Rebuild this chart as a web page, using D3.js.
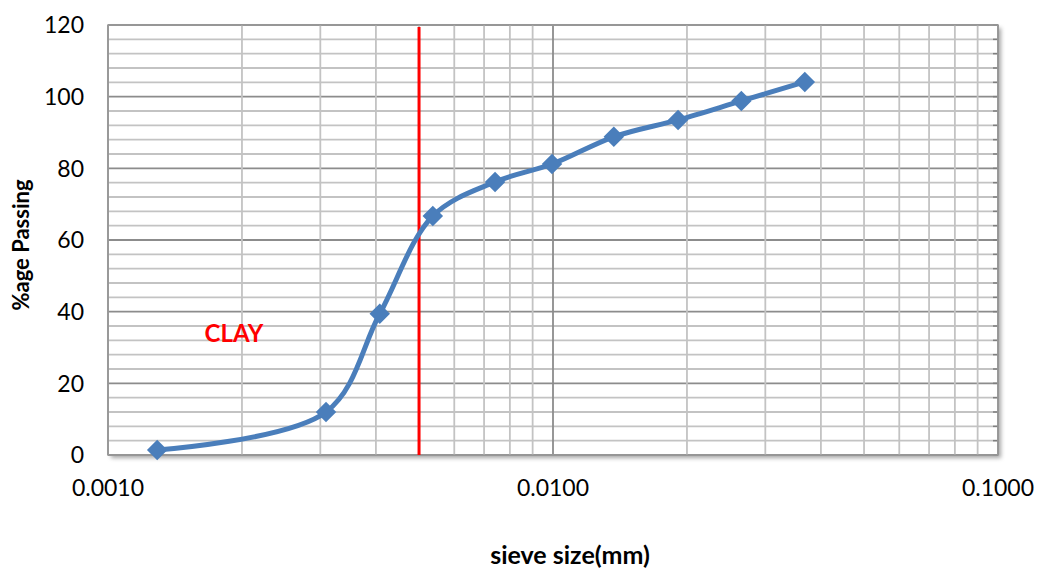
<!DOCTYPE html>
<html>
<head>
<meta charset="utf-8">
<script src="https://d3js.org/d3.v7.min.js"></script>
<style>
  body { margin: 0; background: #fff; }
  text { font-family: Lato, "Open Sans", sans-serif; }
</style>
</head>
<body>
<script>
// sieve sizes (mm) and percent passing
var sieveSizes = [0.00129, 0.00309, 0.00408, 0.00537, 0.00741, 0.00995, 0.0137, 0.0191, 0.0265, 0.0368];
var passing = [1.4, 12.0, 39.4, 66.7, 76.2, 81.2, 88.8, 93.5, 98.8, 104.1];
var yTicks = [0, 20, 40, 60, 80, 100, 120];
var xTicks = [0.001, 0.01, 0.1];
var clayLimit = 0.005;

var width = 1043, height = 570;
var margin = {left: 108, right: 45, top: 25, bottom: 115};

var svg = d3.select("body").append("svg")
            .attr("width", width)
            .attr("height", height);

var defs = svg.append("defs");
var f = defs.append("filter").attr("id", "shadow")
            .attr("x", "-5%").attr("y", "-5%").attr("width", "110%").attr("height", "110%");
f.append("feDropShadow").attr("dx", 3).attr("dy", 3).attr("stdDeviation", 2)
 .attr("flood-color", "#000").attr("flood-opacity", 0.35);

var x = d3.scaleLog().domain([0.001, 0.1]).range([margin.left, width - margin.right]);
var y = d3.scaleLinear().domain([0, 120]).range([height - margin.bottom, margin.top]);

// plot area with shadow
svg.append("rect")
   .attr("x", x.range()[0]).attr("y", y.range()[1])
   .attr("width", x.range()[1] - x.range()[0])
   .attr("height", y.range()[0] - y.range()[1])
   .attr("fill", "#fff")
   .attr("filter", "url(#shadow)");

// horizontal minor gridlines
var yMinor = d3.range(0, 121, 4);
svg.append("g").selectAll("line")
   .data(yMinor)
   .enter().append("line")
   .attr("x1", x.range()[0]).attr("x2", x.range()[1])
   .attr("y1", function(d) {return y(d)})
   .attr("y2", function(d) {return y(d)})
   .attr("stroke", function(d) {return d % 20 == 0 ? "#8c8c8c" : "#c3c3c3"})
   .attr("stroke-width", 1.8);

// vertical gridlines
var xMinor = [];
[0.001, 0.01].forEach(function(dec) {
  for (var i = 1; i < 10; i++) xMinor.push(dec * i);
});
xMinor.push(0.1);
svg.append("g").selectAll("line")
   .data(xMinor)
   .enter().append("line")
   .attr("x1", function(d) {return x(d)})
   .attr("x2", function(d) {return x(d)})
   .attr("y1", y.range()[0]).attr("y2", y.range()[1])
   .attr("stroke", function(d) {
     var l = Math.log10(d);
     return Math.abs(l - Math.round(l)) < 1e-9 ? "#8c8c8c" : "#c3c3c3";
   })
   .attr("stroke-width", 1.8);

// little ticks on the right edge
svg.append("g").selectAll("line")
   .data(yMinor)
   .enter().append("line")
   .attr("x1", x.range()[1] - 5).attr("x2", x.range()[1])
   .attr("y1", function(d) {return y(d)})
   .attr("y2", function(d) {return y(d)})
   .attr("stroke", "#7f7f7f").attr("stroke-width", 1.5);

// plot border
svg.append("rect")
   .attr("x", x.range()[0]).attr("y", y.range()[1])
   .attr("width", x.range()[1] - x.range()[0])
   .attr("height", y.range()[0] - y.range()[1])
   .attr("fill", "none")
   .attr("stroke", "#9a9a9a").attr("stroke-width", 1.5);

// y tick labels
svg.append("g").selectAll("text")
   .data(yTicks)
   .enter().append("text")
   .attr("x", 84)
   .attr("y", function(d) {return y(d)})
   .attr("dy", "0.36em")
   .attr("text-anchor", "end")
   .style("font-size", "23px")
   .style("fill", "#000")
   .text(function(d) {return d});

// x tick labels
svg.append("g").selectAll("text")
   .data(xTicks)
   .enter().append("text")
   .attr("x", function(d) {return x(d)})
   .attr("y", 496)
   .attr("text-anchor", "middle")
   .style("font-size", "23px")
   .style("fill", "#000")
   .text(function(d) {return d.toFixed(4)});

// clay boundary
svg.append("line")
   .attr("x1", x(clayLimit)).attr("x2", x(clayLimit))
   .attr("y1", y(120) + 2).attr("y2", y(0))
   .attr("stroke", "#ff0000").attr("stroke-width", 3);

svg.append("text")
   .attr("x", 234).attr("y", 342)
   .attr("text-anchor", "middle")
   .style("font-size", "24px").style("font-weight", "bold")
   .style("fill", "#ff0000")
   .text("CLAY");

// curve
var pts = sieveSizes.map(function(d, i) {return [d, passing[i]]});
var line = d3.line()
             .x(function(d) {return x(d[0])})
             .y(function(d) {return y(d[1])})
             .curve(d3.curveCatmullRom.alpha(0.5));

svg.append("path")
   .datum(pts)
   .attr("d", line)
   .attr("fill", "none")
   .attr("stroke", "#4a7ebb")
   .attr("stroke-width", 5);

svg.append("g").selectAll("path")
   .data(pts)
   .enter().append("path")
   .attr("d", d3.symbol().type(d3.symbolSquare).size(210))
   .attr("transform", function(d) {return "translate(" + x(d[0]) + "," + y(d[1]) + ") rotate(45)"})
   .attr("fill", "#4a7ebb");

// axis titles
svg.append("text")
   .attr("transform", "translate(29,245) rotate(-90)")
   .attr("text-anchor", "middle")
   .style("font-size", "22px").style("font-weight", "bold")
   .text("%age Passing");

svg.append("text")
   .attr("x", 570).attr("y", 564)
   .attr("text-anchor", "middle")
   .style("font-size", "25px").style("font-weight", "bold")
   .text("sieve size(mm)");
</script>
</body>
</html>
